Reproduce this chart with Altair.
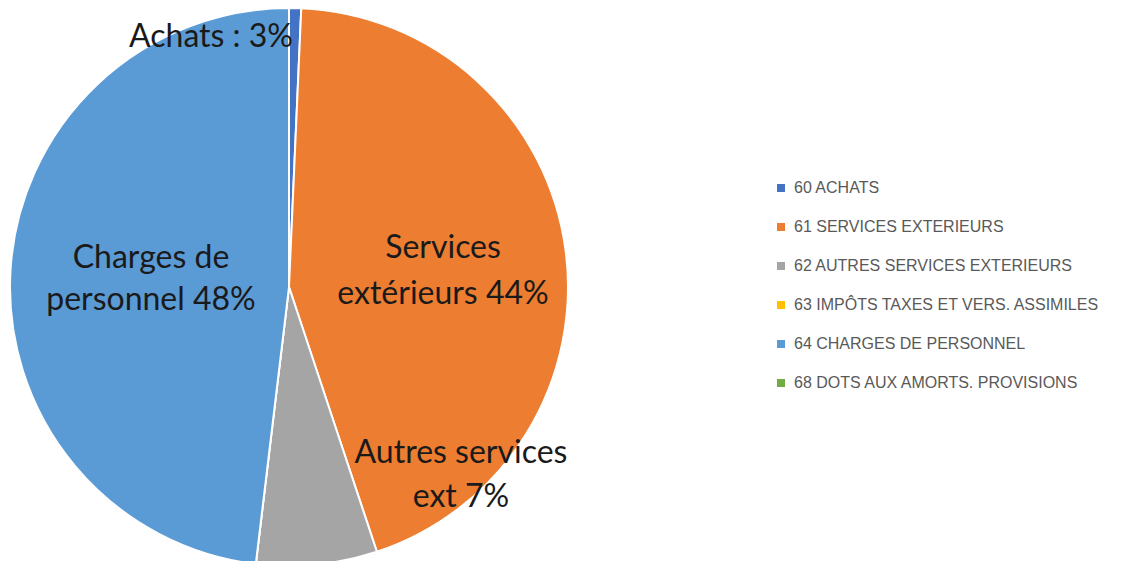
import altair as alt
import pandas as pd

categories = ["60 ACHATS", "61 SERVICES EXTERIEURS", "62 AUTRES SERVICES EXTERIEURS",
              "63 IMPÔTS TAXES ET VERS. ASSIMILES", "64 CHARGES DE PERSONNEL",
              "68 DOTS AUX AMORTS. PROVISIONS"]
values = [0.7, 44.2, 7.0, 0.0, 48.1, 0.0]
colors = ["#4472C4", "#ED7D31", "#A5A5A5", "#FFC000", "#5B9BD5", "#70AD47"]

label_lines = ["Achats : 3%", "Services", "extérieurs 44%", "Autres services", "ext 7%",
               "Charges de", "personnel 48%"]
label_x = [211, 443, 443, 461, 461, 151, 151]
label_y = [37, 248, 294, 453, 497, 258, 300]

df = pd.DataFrame({"cat": categories, "val": values, "ord": list(range(len(values)))})
lab = pd.DataFrame({"t": label_lines, "x": [v - 8 for v in label_x], "y": [v - 8 for v in label_y]})

CX, CY, R = 281, 279, 279

pie = alt.Chart(df).mark_arc(stroke="white", strokeWidth=2, outerRadius=R).encode(
    theta=alt.Theta("val:Q", stack=True),
    order=alt.Order("ord:Q"),
    color=alt.Color("cat:N", scale=alt.Scale(domain=categories, range=colors),
                    sort=categories,
                    legend=alt.Legend(title=None, orient="none", legendX=765, legendY=172,
                                      symbolType="square", symbolSize=64,
                                      labelFont="Liberation Sans", labelFontSize=16,
                                      labelColor="#595959", rowPadding=23, labelOffset=5,
                                      labelLimit=400, symbolStrokeWidth=0)),
    x=alt.value(CX), y=alt.value(CY),
)

text = alt.Chart(lab).mark_text(font="Lato", fontSize=32, color="#1a1a1a",
                                align="center", baseline="middle").encode(
    x=alt.X("x:Q", scale=None), y=alt.Y("y:Q", scale=None), text="t:N"
)

chart = alt.layer(pie, text).properties(width=1105, height=560, padding=0,
                                        autosize=alt.AutoSizeParams(type="none")
                                        ).configure_view(stroke=None)

chart.save("out.html", embed_options={"renderer": "svg", "actions": False})
